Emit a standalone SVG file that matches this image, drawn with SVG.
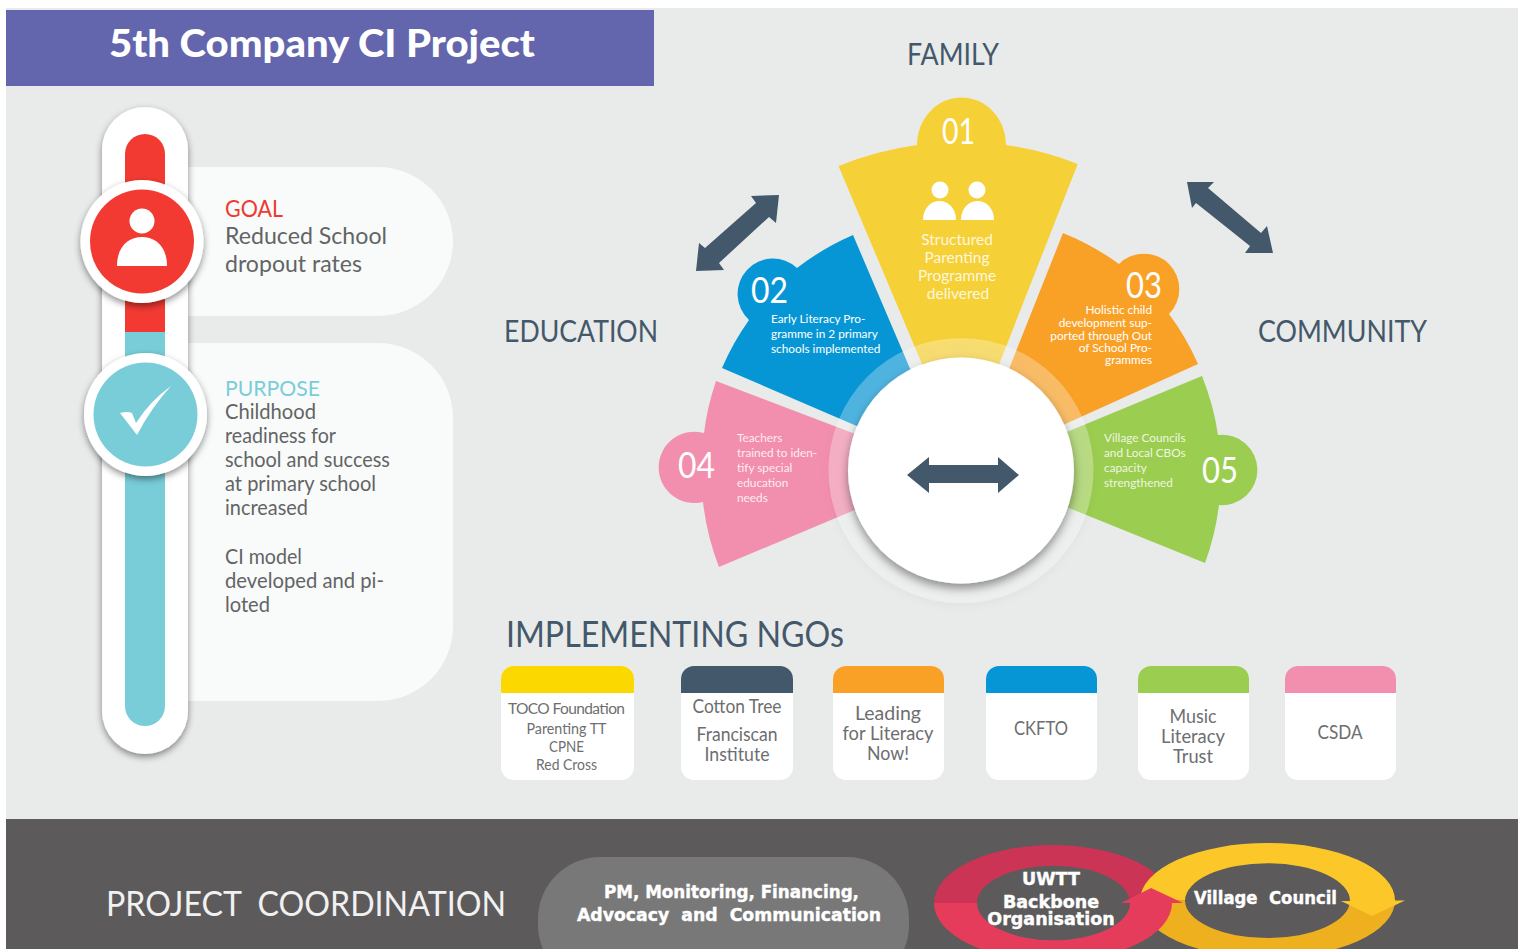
<svg xmlns="http://www.w3.org/2000/svg" width="1525" height="949" viewBox="0 0 1525 949">
<defs>
<style>
text{font-family:"Lato","Noto Sans","Liberation Sans",sans-serif}
.h{fill:#44586b;font-size:30px}
.d{fill:#636466;font-size:22px}
.n{fill:#fff;font-size:36px}
.w{fill:#fff;font-size:11.8px}
.wp{fill:#fff;fill-opacity:.85;font-size:11.8px}
.y{fill:#fff;fill-opacity:.85;font-size:15.5px;text-anchor:middle}
.e{text-anchor:end}
.c{fill:#6d6e70;font-size:18.500px;text-anchor:middle}
.s{fill:#6d6e70;font-size:15.500px;text-anchor:middle}
.b{font-family:"DejaVu Sans","Liberation Sans",sans-serif;font-weight:700;fill:#fff;stroke:#fff;stroke-width:.4px;text-anchor:middle;font-size:17.5px}
.arrow{fill:#44586b}
.white{fill:#fff}
</style>
<filter id="sh" x="-30%" y="-30%" width="160%" height="160%"><feDropShadow dx="0" dy="3" stdDeviation="3.5" flood-color="#000" flood-opacity=".45"/></filter>
<filter id="sh2" x="-20%" y="-20%" width="140%" height="140%"><feDropShadow dx="0" dy="5" stdDeviation="5" flood-color="#000" flood-opacity=".4"/></filter>
<filter id="sh3" x="-20%" y="-20%" width="140%" height="140%"><feDropShadow dx="0" dy="3" stdDeviation="4" flood-color="#000" flood-opacity=".12"/></filter>
</defs>
<rect width="1525" height="949" fill="#fff"/>
<rect x="6" y="8" width="1512" height="811" fill="#e9ebea"/>
<g id="header"><rect x="6" y="10" width="648" height="76" fill="#6366ac"/>
<text x="109" y="57" font-size="38" font-weight="900" fill="#fff" textLength="426" lengthAdjust="spacingAndGlyphs">5th Company CI Project</text></g>

<g id="goal-card"><path d="M175,167H378A75,75 0 0 1 453,242V241A75,75 0 0 1 378,316H175Z" fill="#f9fbfa"/>
<text x="225" y="217" font-size="23" fill="#ee3a32" textLength="58" lengthAdjust="spacingAndGlyphs">GOAL</text>
<text class="d" x="225" y="244" style="font-size:24px" textLength="162" lengthAdjust="spacingAndGlyphs">Reduced School</text>
<text class="d" x="225" y="272" style="font-size:24px" textLength="137" lengthAdjust="spacingAndGlyphs">dropout rates</text></g>
<g id="purpose-card"><path d="M175,343H378A75,75 0 0 1 453,418V626A75,75 0 0 1 378,701H175Z" fill="#f9fbfa"/>
<text x="225" y="395.500" font-size="21" fill="#79cdd8" textLength="95" lengthAdjust="spacingAndGlyphs">PURPOSE</text>
<text class="d" x="225" y="419" textLength="91" lengthAdjust="spacingAndGlyphs" style="font-size:21px">Childhood</text>
<text class="d" x="225" y="443" textLength="111" lengthAdjust="spacingAndGlyphs">readiness for</text>
<text class="d" x="225" y="467" textLength="165" lengthAdjust="spacingAndGlyphs">school and success</text>
<text class="d" x="225" y="491" textLength="151" lengthAdjust="spacingAndGlyphs">at primary school</text>
<text class="d" x="225" y="515" textLength="83" lengthAdjust="spacingAndGlyphs">increased</text>
<text class="d" x="225" y="564" textLength="77" lengthAdjust="spacingAndGlyphs">CI model</text>
<text class="d" x="225" y="588" textLength="159" lengthAdjust="spacingAndGlyphs">developed and pi-</text>
<text class="d" x="225" y="612" textLength="45" lengthAdjust="spacingAndGlyphs">loted</text></g>

<g id="timeline"><rect x="102" y="107" width="86" height="647" rx="43" fill="#fff" filter="url(#sh)"/>
<path d="M125,332V154A20,20 0 0 1 165,154V332Z" fill="#f23a32"/>
<path d="M125,332H165V706A20,20 0 0 1 125,706Z" fill="#78cdd8"/></g>
<g id="goal-icon"><circle cx="142" cy="241.500" r="61.500" fill="#fff" filter="url(#sh)"/><circle cx="142" cy="241.500" r="52" fill="#f23a32"/>
<circle class="white" cx="142" cy="221" r="12.500"/><path class="white" d="M117,266C117,247 128,237 142,237C156,237 167,247 167,266Z"/></g>
<g id="purpose-icon"><circle cx="145.500" cy="414.500" r="61.500" fill="#fff" filter="url(#sh)"/><circle cx="145.500" cy="414.500" r="52" fill="#78cdd8"/>
<path class="white" d="M120,413Q127,411 132,413L136,423Q150,401 171,386Q151,408 137,435Z"/></g>

<g id="wedge-01"><path fill="#f6d037" d="M838.500,166A328,328 0 0 1 917,145A44,47 0 0 1 1006,145A328,328 0 0 1 1077.700,164L962,459Z"/>
<text class="n" x="942" y="144" textLength="33" lengthAdjust="spacingAndGlyphs">01</text>
<circle class="white" cx="940" cy="190" r="8.500"/><circle class="white" cx="977" cy="190" r="8.500"/>
<path class="white" d="M923,220C923,208 931,201 939.500,201C948,201 956,208 956,220Z"/><path class="white" d="M961,220C961,208 969,201 977.500,201C986,201 994,208 994,220Z"/>
<text class="y" x="957" y="245">Structured</text><text class="y" x="957" y="263">Parenting</text><text class="y" x="957" y="281">Programme</text><text class="y" x="958" y="299">delivered</text></g>
<g id="wedge-02"><path fill="#0796d5" d="M853,235L952,467L722,368A260,260 0 0 1 749,320A35,35 0 1 1 797,268A260,260 0 0 1 853,235Z"/>
<text class="n" x="751" y="303" textLength="37" lengthAdjust="spacingAndGlyphs">02</text>
<text class="w" x="771" y="323">Early Literacy Pro-</text><text class="w" x="771" y="338">gramme in 2 primary</text><text class="w" x="771" y="353">schools implemented</text></g>
<g id="wedge-03"><path fill="#f9a127" d="M1063,233A260,260 0 0 1 1119,264A35,35 0 1 1 1169,314A260,260 0 0 1 1198,364L970,467Z"/>
<text class="n" x="1126" y="298" textLength="36" lengthAdjust="spacingAndGlyphs">03</text>
<text class="w e" x="1152" y="314">Holistic child</text><text class="w e" x="1152" y="327">development sup-</text><text class="w e" x="1152" y="340">ported through Out</text><text class="w e" x="1152" y="352">of School Pro-</text><text class="w e" x="1152" y="364">grammes</text></g>
<g id="wedge-04"><path fill="#f28fae" d="M716,381L950,470L719,567A260,260 0 0 1 703,502A35.700,35.700 0 1 1 704,433A260,260 0 0 1 716,381Z"/>
<text class="n" x="678" y="478" textLength="37" lengthAdjust="spacingAndGlyphs">04</text>
<text class="wp" x="737" y="442">Teachers</text><text class="wp" x="737" y="457">trained to iden-</text><text class="wp" x="737" y="472">tify special</text><text class="wp" x="737" y="487">education</text><text class="wp" x="737" y="502">needs</text></g>
<g id="wedge-05"><path fill="#9bcd50" d="M1202,376A260,260 0 0 1 1218,435A35.200,35.200 0 1 1 1219,505A260,260 0 0 1 1205,563L975,470Z"/>
<text class="n" x="1202" y="483" textLength="36" lengthAdjust="spacingAndGlyphs">05</text>
<text class="wp" x="1104" y="442">Village Councils</text><text class="wp" x="1104" y="457">and Local CBOs</text><text class="wp" x="1104" y="472">capacity</text><text class="wp" x="1104" y="487">strengthened</text></g>

<g id="hub"><circle cx="961" cy="470.500" r="132.500" fill="#fff" fill-opacity=".28" filter="url(#sh3)"/>
<circle cx="961" cy="470.500" r="113" fill="#fff" filter="url(#sh2)"/></g>

<g id="connectors">
<polygon class="arrow" points="907,475 929,457 929,465 998,465 998,457 1019,475 998,493 998,483 929,483 929,493"/>
<polygon class="arrow" points="779,195 776,223 769,217 719,263 724,270 696,271 699,243 705,248 756,203 751,196"/>
<polygon class="arrow" points="1187,182 1214,182 1208,188 1261,233 1267,226 1273,253 1245,253 1250,246 1196,203 1192,208"/>
</g>

<g id="labels">
<text class="h" x="907" y="65" textLength="92" lengthAdjust="spacingAndGlyphs">FAMILY</text><text class="h" x="504" y="342" textLength="154" lengthAdjust="spacingAndGlyphs">EDUCATION</text><text class="h" x="1258" y="342" textLength="169" lengthAdjust="spacingAndGlyphs">COMMUNITY</text>
<text class="h" x="506" y="647" style="font-size:36px" textLength="338" lengthAdjust="spacingAndGlyphs">IMPLEMENTING NGOs</text></g>

<g id="ngo-1"><rect x="501" y="666" width="133" height="114" rx="13" fill="#fff"/><path d="M501,693V679A13,13 0 0 1 514,666H621A13,13 0 0 1 634,679V693Z" fill="#fbd800"/>
<text class="s" x="566.500" y="714" textLength="117" lengthAdjust="spacing">TOCO Foundation</text><text class="s" x="566.500" y="734" textLength="80" lengthAdjust="spacingAndGlyphs">Parenting TT</text><text class="s" x="566.500" y="752" textLength="35" lengthAdjust="spacingAndGlyphs">CPNE</text><text class="s" x="566.500" y="770" textLength="61" lengthAdjust="spacingAndGlyphs">Red Cross</text></g>
<g id="ngo-2"><rect x="681" y="666" width="112" height="114" rx="13" fill="#fff"/><path d="M681,693V679A13,13 0 0 1 694,666H780A13,13 0 0 1 793,679V693Z" fill="#44586b"/>
<text class="c" x="737" y="713" textLength="89" lengthAdjust="spacingAndGlyphs">Cotton Tree</text><text class="c" x="737" y="741" textLength="81" lengthAdjust="spacingAndGlyphs">Franciscan</text><text class="c" x="737" y="761" textLength="65" lengthAdjust="spacingAndGlyphs">Institute</text></g>
<g id="ngo-3"><rect x="833" y="666" width="111" height="114" rx="13" fill="#fff"/><path d="M833,693V679A13,13 0 0 1 846,666H931A13,13 0 0 1 944,679V693Z" fill="#f9a127"/>
<text class="c" x="888" y="720" textLength="66" lengthAdjust="spacingAndGlyphs">Leading</text><text class="c" x="888" y="740" textLength="91" lengthAdjust="spacingAndGlyphs">for Literacy</text><text class="c" x="888" y="760" textLength="42" lengthAdjust="spacingAndGlyphs">Now!</text></g>
<g id="ngo-4"><rect x="986" y="666" width="111" height="114" rx="13" fill="#fff"/><path d="M986,693V679A13,13 0 0 1 999,666H1084A13,13 0 0 1 1097,679V693Z" fill="#0796d5"/>
<text class="c" x="1041" y="735" textLength="54" lengthAdjust="spacingAndGlyphs">CKFTO</text></g>
<g id="ngo-5"><rect x="1138" y="666" width="111" height="114" rx="13" fill="#fff"/><path d="M1138,693V679A13,13 0 0 1 1151,666H1236A13,13 0 0 1 1249,679V693Z" fill="#9bcd50"/>
<text class="c" x="1193" y="723" textLength="47" lengthAdjust="spacingAndGlyphs">Music</text><text class="c" x="1193" y="743" textLength="64" lengthAdjust="spacingAndGlyphs">Literacy</text><text class="c" x="1193" y="763" textLength="40" lengthAdjust="spacingAndGlyphs">Trust</text></g>
<g id="ngo-6"><rect x="1285" y="666" width="111" height="114" rx="13" fill="#fff"/><path d="M1285,693V679A13,13 0 0 1 1298,666H1383A13,13 0 0 1 1396,679V693Z" fill="#f28fae"/>
<text class="c" x="1340" y="739" textLength="45" lengthAdjust="spacingAndGlyphs">CSDA</text></g>

<g id="coordination"><rect x="6" y="819" width="1512" height="130" fill="#5c5a5b"/>
<text x="106" y="916" font-size="35" fill="#f1f1f1" textLength="400" lengthAdjust="spacingAndGlyphs" xml:space="preserve">PROJECT  COORDINATION</text></g>
<g id="pm"><rect x="538" y="857" width="371" height="130" rx="62" fill="#797879"/>
<text class="b" x="731.500" y="898" textLength="255" lengthAdjust="spacingAndGlyphs">PM, Monitoring, Financing,</text><text class="b" x="729" y="921" textLength="304" lengthAdjust="spacingAndGlyphs" xml:space="preserve">Advocacy  and  Communication</text></g>
<g id="rings">
<path fill="#cb3455" d="M934,903A119,58 0 0 1 1172,903H1130A76,37 0 0 0 977,903Z"/>
<path fill="#eeb01e" d="M1140,900.500A127.500,57.500 0 0 0 1395,900.500H1350A82.500,37.500 0 0 1 1185,900.500Z"/>
<path fill="#fcc729" d="M1140,900.500A127.500,57.500 0 0 1 1395,900.500H1405L1372,916L1341,901H1350A82.500,37.500 0 0 0 1185,900.500Z"/>
<path fill="#e53c5c" d="M934,903A119,58 0 0 0 1172,903H1183L1151,888L1121,903H1130A76,37 0 0 1 977,903Z"/>
</g>
<g id="uwtt"><text class="b" x="1051" y="885">UWTT</text><text class="b" x="1051" y="908">Backbone</text><text class="b" x="1051" y="925">Organisation</text></g>
<g id="village"><text class="b" x="1265.500" y="904" textLength="143" lengthAdjust="spacingAndGlyphs" xml:space="preserve">Village  Council</text></g>
</svg>
